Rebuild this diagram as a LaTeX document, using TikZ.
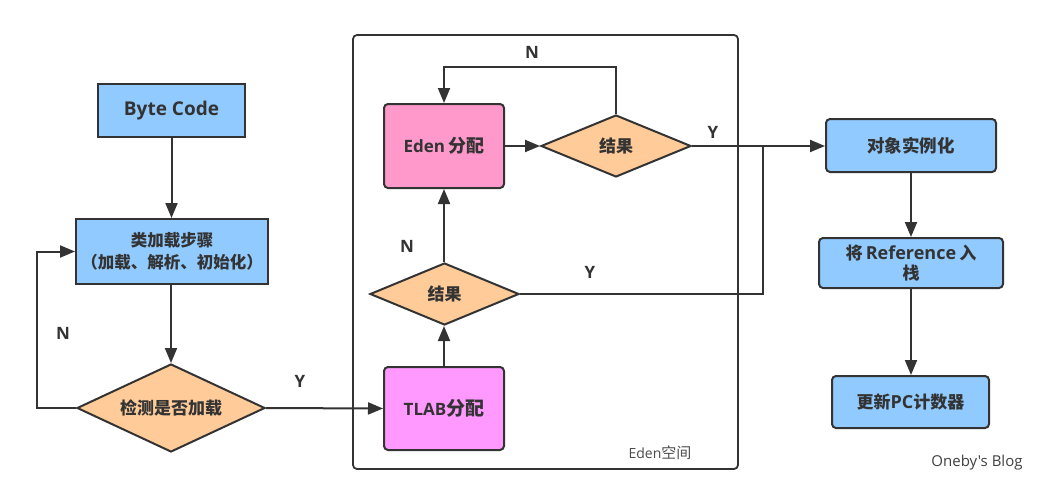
\documentclass[tikz,border=0pt]{standalone}
\usepackage{fontspec}
\newfontfamily\cjk{Noto Sans CJK SC}
\newfontfamily\lat{Open Sans}
\usetikzlibrary{shapes.geometric,arrows.meta}
\definecolor{lineC}{RGB}{51,51,51}
\definecolor{blueC}{RGB}{145,202,255}
\definecolor{orangeC}{RGB}{255,204,153}
\definecolor{pinkC}{RGB}{255,153,204}
\definecolor{magC}{RGB}{255,153,255}
\newcommand\zh[2]{{\cjk\bfseries\fontsize{#1}{#1}\selectfont #2}}
\newcommand\en[2]{{\lat\bfseries\fontsize{#1}{#1}\selectfont #2}}
\tikzset{
  conn/.style={draw=lineC, line width=2pt},
  arr/.style={conn, -{Triangle[length=15pt,width=12pt]}},
  sqbox/.style={draw=lineC, line width=2pt, fill=blueC, inner sep=0pt, align=center, text=lineC},
  rbox/.style={sqbox, rounded corners=4pt},
  dia/.style={diamond, draw=lineC, line width=2pt, fill=orangeC, inner sep=0pt, aspect=2.4, text=lineC},
  lbl/.style={inner sep=0pt, text=lineC},
}
\begin{document}
\begin{tikzpicture}[x=1pt,y=-1pt]
\useasboundingbox (0,0) rectangle (1048,487);
\fill[white] (0,0) rectangle (1048,487);
% Eden frame
\node[draw=lineC, line width=1.8pt, rounded corners=4pt, minimum width=385pt, minimum height=434pt, inner sep=0pt] (space) at (545.5,252) {};
\node[inner sep=0pt, text=black!70] (spacelbl) at (660,453) {{\lat\fontsize{14}{14}\selectfont Eden}{\cjk\fontsize{15}{15}\selectfont 空间}};
% left column
\node[sqbox, minimum width=147pt, minimum height=53pt] (bc) at (171.5,110.5) {\en{19}{Byte Code}};
\node[sqbox, minimum width=192pt, minimum height=65pt] (load) at (172,251.5) {\zh{16.5}{类加载步骤}\\[5pt]\zh{16.5}{（加载、解析、初始化）}};
\node[dia, minimum width=188pt, minimum height=88pt] (check) at (171,408) {\zh{17}{检测是否加载}};
% middle
\node[rbox, fill=pinkC, minimum width=120pt, minimum height=84pt] (edenb) at (444,146) {\en{17}{Eden} \zh{18}{分配}};
\node[dia, minimum width=150pt, minimum height=62pt] (res2) at (616,146) {\zh{17}{结果}};
\node[dia, minimum width=149pt, minimum height=62pt] (res1) at (444.5,294) {\zh{17}{结果}};
\node[rbox, fill=magC, minimum width=120pt, minimum height=83pt] (tlab) at (444,408.5) {\en{17}{TLAB}\zh{19}{分配}};
% right column
\node[rbox, minimum width=170pt, minimum height=53pt] (obj) at (911,145.5) {\zh{17.5}{对象实例化}};
\node[rbox, minimum width=184pt, minimum height=50pt] (ref) at (911,263) {\zh{17}{将} \en{18}{Reference} \zh{17}{入}\\[2pt]\zh{17}{栈}};
\node[rbox, minimum width=157pt, minimum height=52pt] (pc) at (910.5,402) {\zh{17}{更新}\en{18}{PC}\zh{17}{计数器}};
% connectors
\draw[arr] (bc.south) -- (bc.south |- load.north);
\draw[arr] (load.south -| check.north) -- (check.north);
\draw[arr] (check.west) -- ++(-39,0) |- (load.west);
\draw[arr] (check.east) -- (tlab.west);
\draw[arr] (tlab.north) -- (tlab.north |- res1.south);
\draw[arr] (res1.north -| edenb.south) -- (edenb.south);
\draw[arr] (edenb.east) -- (res2.west);
\draw[arr] (res2.north) -- ++(0,-47) -| (edenb.north);
\draw[arr] (res2.east) -- (obj.west |- res2.east);
\coordinate (join) at (763,146);
\draw[conn] (res1.east) -| (join);
\draw[arr] (obj.south) -- (obj.south |- ref.north);
\draw[arr] (ref.south) -- (ref.south |- pc.north);
% labels
\node[lbl] (nl) at (63,333) {\en{17}{N}};
\node[lbl] (yl) at (300,381) {\en{17}{Y}};
\node[lbl] (nt) at (532,52) {\en{17}{N}};
\node[lbl] (yt) at (713,132) {\en{17}{Y}};
\node[lbl] (nm) at (407,246) {\en{17}{N}};
\node[lbl] (ym) at (590,272) {\en{17}{Y}};
% watermark
\node[inner sep=0pt, text=black!75] (wm) at (977,463) {{\lat\fontsize{15}{15}\selectfont Oneby{\char"27}s Blog}};
\end{tikzpicture}
\end{document}
